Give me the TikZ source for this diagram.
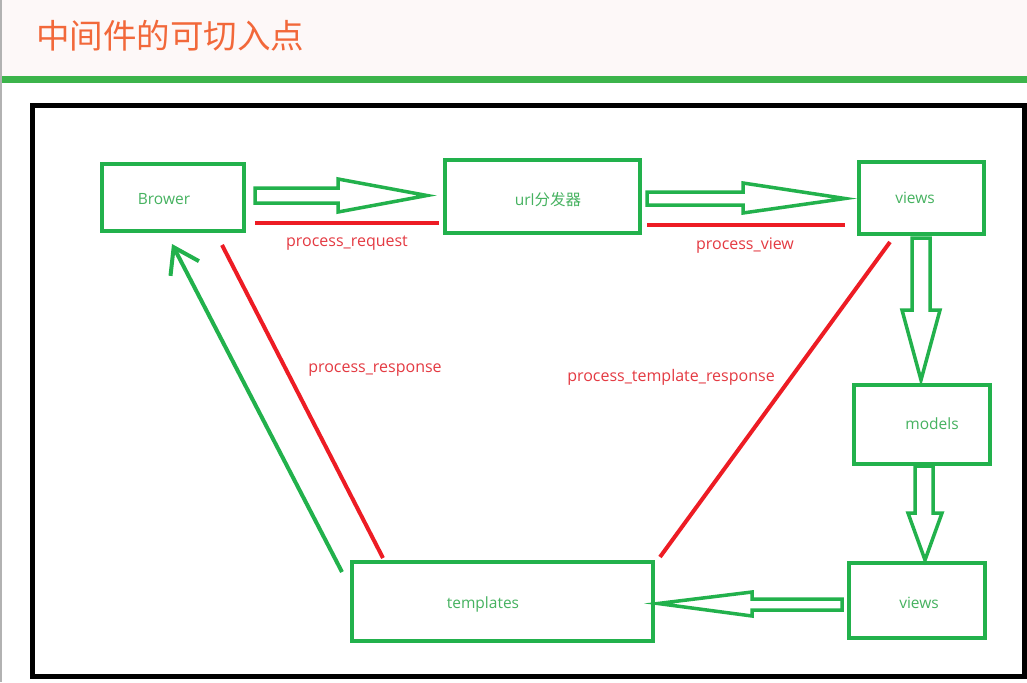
\documentclass[tikz,border=0pt]{standalone}
\usepackage{fontspec}
\setmainfont{Open Sans}
\newfontfamily\cjk{Noto Sans CJK SC}
\usetikzlibrary{arrows.meta}
\definecolor{pgreen}{RGB}{34,177,76}
\definecolor{pred}{RGB}{237,28,36}
\definecolor{tgreen}{RGB}{70,178,96}
\definecolor{tred}{RGB}{228,58,66}
\definecolor{titlec}{RGB}{242,104,58}
\definecolor{headbg}{RGB}{253,248,248}
\definecolor{sepgreen}{RGB}{60,180,75}
\tikzset{
  box/.style={draw=pgreen, line width=4pt, inner sep=0pt},
  boxtext/.style={text=tgreen, font=\fontsize{15.5}{18}\selectfont, inner sep=0pt},
  lbl/.style={text=tred, font=\fontsize{16}{18}\selectfont, inner sep=0pt},
  hollow/.style={draw=pgreen, line width=3.5pt, fill=white, line join=miter},
  redline/.style={draw=pred, line width=4pt},
}
\begin{document}
\begin{tikzpicture}[x=1pt,y=-1pt]
% background
\fill[white] (0,0) rectangle (1027,682);
\useasboundingbox (0,0) rectangle (1027,682);
\fill[headbg] (0,0) rectangle (1027,76);
\fill[sepgreen] (0,76) rectangle (1027,83);
\fill[black!30] (0,0) rectangle (2,682);
\node[text=titlec, font=\cjk\fontsize{33.5}{36}\selectfont, anchor=west, inner sep=0pt] (title) at (36,36) {中间件的可切入点};
% frame
\draw[black, line width=5pt] (32.5,105.5) rectangle (1024,676);
% boxes
\node[box, minimum width=142pt, minimum height=67pt] (brower) at (173,197.5) {};
\node[box, minimum width=195pt, minimum height=73pt] (url) at (542.5,196.5) {};
\node[box, minimum width=125pt, minimum height=72pt] (views1) at (921.5,198) {};
\node[box, minimum width=136pt, minimum height=79pt] (models) at (922,424.5) {};
\node[box, minimum width=136pt, minimum height=75pt] (views2) at (917,600.5) {};
\node[box, minimum width=301pt, minimum height=79pt] (templates) at (502.5,601.5) {};
% box texts
\node[boxtext] (browerT) at (164,199) {Brower};
\node[boxtext] (urlT) at (548,200) {url{\cjk 分发器}};
\node[boxtext] (views1T) at (915,198) {views};
\node[boxtext] (modelsT) at (932,424) {models};
\node[boxtext] (views2T) at (919,603) {views};
\node[boxtext] (templatesT) at (483,604) {templates};
% hollow arrows
\draw[hollow] (255,188) -- (338,188) -- (338,179) -- (427,195.5) -- (338,212) -- (338,203) -- (255,203) -- cycle;
\draw[hollow] (647,192) -- (743,192) -- (743,183) -- (845,198.5) -- (743,213) -- (743,205) -- (647,205) -- cycle;
\draw[hollow] (912,238) -- (930,238) -- (930,310) -- (940,310) -- (921,380) -- (902,310) -- (912,310) -- cycle;
\draw[hollow] (915,466) -- (933,466) -- (933,513) -- (942,513) -- (925,560) -- (908,513) -- (915,513) -- cycle;
\draw[hollow] (842,599) -- (752,599) -- (752,592) -- (658,603.5) -- (752,616) -- (752,610) -- (842,610) -- cycle;
% red lines
\coordinate (r1a) at (255,223); \coordinate (r1b) at (439,223);
\coordinate (r2a) at (647,224.5); \coordinate (r2b) at (845,224.5);
\coordinate (r3a) at (222,245); \coordinate (r3b) at (383,558);
\coordinate (r4a) at (890,242); \coordinate (r4b) at (660,557);
\draw[redline] (r1a) -- (r1b);
\draw[redline] (r2a) -- (r2b);
\draw[redline] (r3a) -- (r3b);
\draw[redline] (r4a) -- (r4b);
% green return arrow
\coordinate (gA) at (342,572);
\coordinate (gB) at (172,244);
\draw[pgreen, line width=4pt, -{Straight Barb[length=24pt, width=32pt, line width=4pt]}] (gA) -- (gB);
% labels
\node[lbl] (preq) at (347,243) {process\_request};
\node[lbl] (pview) at (745,246) {process\_view};
\node[lbl] (presp) at (375,370) {process\_response};
\node[lbl] (ptpl) at (671,377) {process\_template\_response};
\end{tikzpicture}
\end{document}
